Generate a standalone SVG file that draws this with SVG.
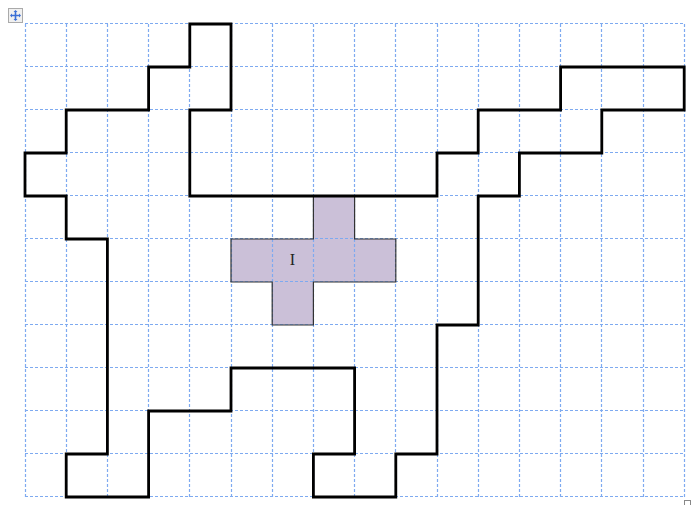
<svg xmlns="http://www.w3.org/2000/svg" width="699" height="505" viewBox="0 0 699 505">
<defs>
<style>
.grid{stroke:#7eaaf0;stroke-width:1.2;stroke-dasharray:3,2;fill:none}
.outline{fill:none;stroke:#000;stroke-width:2.8;stroke-linejoin:miter;stroke-linecap:square}
.shape{fill:#cbc0d8;stroke:none}
.shapeedge{fill:none;stroke:#333;stroke-width:1.2}
.lbl{font-family:"Liberation Serif",serif;font-size:16px;fill:#222}
</style>
</defs>
<rect width="699" height="505" fill="#fff"/>
<g id="handle-move">
<rect x="8.5" y="8.5" width="14" height="14" fill="#f0f0f0" stroke="#aaa" stroke-width="1"/>
<path d="M15.5 11v9M11 15.5h9" stroke="#3b6fd6" stroke-width="1.6"/>
<path d="M15.5 10l-2 2h4zM15.5 21l-2-2h4zM10 15.5l2-2v4zM21 15.5l-2-2v4z" fill="#3b6fd6"/>
</g>
<g id="handle-resize">
<rect x="684.5" y="500.5" width="6" height="6" fill="#fff" stroke="#888" stroke-width="1"/>
</g>
<g id="shape-I">
<path class="shape" d="M313 196H354V239H395V282H313V325H272V282H231V239H313Z"/>
</g>
<g id="grid">
<path class="grid" d="M25.5 24V497M66.5 24V497M107.5 24V497M148.5 24V497M189.5 24V497M231.5 24V497M272.5 24V497M313.5 24V497M354.5 24V497M395.5 24V497M437.5 24V497M478.5 24V497M519.5 24V497M560.5 24V497M601.5 24V497M643.5 24V497M684.5 24V497"/>
<path class="grid" d="M25 23.5H685M25 66.5H685M25 109.5H685M25 152.5H685M25 195.5H685M25 238.5H685M25 281.5H685M25 324.5H685M25 367.5H685M25 410.5H685M25 453.5H685M25 496.5H685"/>
</g>
<g id="shape-I-edge">
<path class="shapeedge" d="M313.4 196H354.6V239H395.8V282H313.4V325H272.2V282H231V239H313.4Z"/>
<text class="lbl" x="292.5" y="265" text-anchor="middle">I</text>
</g>
<g id="connectors">
<path class="outline" d="M189.8 24H231V110H189.8V196H437V153H478.2V110H560.6V67H684.2V110H601.8V153H519.4V196H478.2V325H437V454H395.8V497H313.4V454H354.6V368H231V411H148.6V497H66.2V454H107.4V239H66.2V196H25V153H66.2V110H148.6V67H189.8Z"/>
</g>
</svg>
